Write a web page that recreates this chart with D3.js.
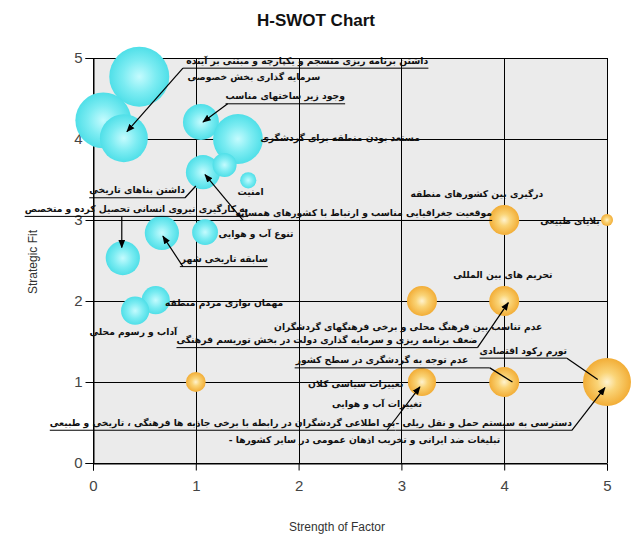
<!DOCTYPE html>
<html>
<head>
<meta charset="utf-8">
<script src="https://cdn.jsdelivr.net/npm/d3@7"></script>
<style>
  html, body { margin: 0; padding: 0; background: #ffffff; }
  svg { display: block; }
</style>
</head>
<body>
<svg id="chart" width="632" height="538"></svg>
<script>
// ---------------- DATA ----------------
const xTicks = [0, 1, 2, 3, 4, 5];
const yTicks = [0, 1, 2, 3, 4, 5];

// internal factors (cyan bubbles)
const internalX    = [0.45, 0.10, 0.30, 1.05, 1.41, 1.07, 1.28, 1.51, 0.67, 1.09, 0.29, 0.61, 0.41];
const internalY    = [4.77, 4.23, 4.01, 4.21, 4.00, 3.59, 3.68, 3.49, 2.84, 2.85, 2.53, 2.01, 1.88];
const internalSize = [10, 9.3, 8, 6, 8.3, 5.7, 4, 2.7, 5.7, 4.3, 5.7, 4.7, 4.7];

// external factors (orange bubbles)
const externalX    = [1.0, 4.0, 5.0, 3.2, 4.0, 3.2, 4.0, 5.0];
const externalY    = [1.0, 3.0, 3.0, 2.0, 2.0, 1.0, 1.0, 1.0];
const externalSize = [3.3, 5, 2, 5, 5, 4.7, 5, 8];

// factor labels (Persian), placed in data units
const labelText = [
  "داشتن برنامه ریزی منسجم و یکپارچه و مبتنی بر آینده",
  "سرمایه گذاری بخش خصوصی",
  "وجود زیر ساختهای مناسب",
  "مستعد بودن منطقه برای گردشگری",
  "امنیت",
  "داشتن بناهای تاریخی",
  "به کارگیری نیروی انسانی تحصیل کرده و متخصص",
  "موقعیت جغرافیایی مناسب و ارتباط با کشورهای همسایه",
  "تنوع آب و هوایی",
  "سابقه تاریخی شهر",
  "مهمان نوازی مردم منطقه",
  "آداب و رسوم محلی",
  "درگیری بین کشورهای منطقه",
  "بلایای طبیعی",
  "تحریم های بین المللی",
  "عدم تناسب بین فرهنگ محلی و برخی فرهنگهای گردشگران",
  "ضعف برنامه ریزی و سرمایه گذاری دولت در بخش توریسم فرهنگی",
  "تورم رکود اقتصادی",
  "عدم توجه به گردشگری در سطح کشور",
  "تغییرات سیاسی کلان",
  "تغییرات آب و هوایی",
  "بی اطلاعی گردشگران در رابطه با برخی جاذبه ها فرهنگی ، تاریخی و طبیعی",
  "- دسترسی به سیستم حمل و نقل ریلی",
  "- تبلیغات ضد ایرانی و تخریب اذهان عمومی در سایر کشورها"
];
// label layout: right end (x), baseline (y), underline, leader start x, leader target, arrow
const labelLayout = [
  {x: 3.26, y: 4.93, u: true,  lx: 0.875, tx: 0.33, ty: 4.09, arrow: true},
  {x: 2.21, y: 4.73},
  {x: 2.45, y: 4.49, u: true,  lx: 1.31, tx: 1.07, ty: 4.21, arrow: true},
  {x: 3.18, y: 3.98},
  {x: 1.66, y: 3.31},
  {x: 0.895, y: 3.33, u: true, lx: 0.895, tx: 1.0, ty: 3.42, arrow: false},
  {x: 1.51, y: 3.10, u: true,  lx: 0.28, tx: 0.28, ty: 2.66, arrow: true},
  {x: 3.88, y: 3.05, u: true,  lx: 1.46, tx: 1.09, ty: 3.56, arrow: true},
  {x: 1.95, y: 2.79},
  {x: 1.70, y: 2.48, u: true,  lx: 0.875, tx: 0.68, ty: 2.80, arrow: true},
  {x: 1.85, y: 1.94},
  {x: 0.82, y: 1.58},
  {x: 4.38, y: 3.28},
  {x: 4.93, y: 2.95},
  {x: 4.47, y: 2.28},
  {x: 4.37, y: 1.64},
  {x: 3.74, y: 1.48, u: true,  lx: 3.74, tx: 4.04, ty: 1.98, arrow: true},
  {x: 4.61, y: 1.35, u: true,  lx: 4.61, tx: 4.91, ty: 1.03, arrow: false},
  {x: 3.65, y: 1.23, u: true,  lx: 3.86, tx: 4.08, ty: 1.00, arrow: false},
  {x: 3.02, y: 0.94},
  {x: 3.20, y: 0.69},
  {x: 2.94, y: 0.46, u: true,  lx: 2.86, tx: 3.18, ty: 0.94, arrow: true},
  {x: 4.66, y: 0.46, u: true,  lx: 4.66, tx: 4.98, ty: 0.93, arrow: true},
  {x: 3.96, y: 0.25}
];

// ---------------- CHART ----------------
const svg = d3.select("#chart");
const plot = {left: 93, right: 607, top: 58, bottom: 463};

const x = d3.scaleLinear().domain([0, 5]).range([plot.left, plot.right]);
const y = d3.scaleLinear().domain([0, 5]).range([plot.bottom, plot.top]);
const r = d3.scaleLinear().domain([0, 10]).range([0, 30]);

const defs = svg.append("defs");
function radial(id, stops) {
  const g = defs.append("radialGradient").attr("id", id)
    .attr("cx", "50%").attr("cy", "50%").attr("r", "50%");
  stops.forEach(s => g.append("stop").attr("offset", s[0]).attr("stop-color", s[1]));
}
radial("gCyan", [["0%", "#c4fbfe"], ["55%", "#7cecf2"], ["100%", "#4fdfe8"]]);
radial("gOrange", [["0%", "#fff3cf"], ["40%", "#fad477"], ["100%", "#f2ad36"]]);

defs.append("marker").attr("id", "arrow")
  .attr("viewBox", "0 0 10 10").attr("refX", 9).attr("refY", 5)
  .attr("markerWidth", 7).attr("markerHeight", 7)
  .attr("orient", "auto-start-reverse")
  .append("path").attr("d", "M0,1 L10,5 L0,9 Z").attr("fill", "#000");

// Title
svg.append("text").attr("x", 316).attr("y", 26)
  .attr("text-anchor", "middle")
  .attr("font-family", "Liberation Sans, Arial, sans-serif")
  .attr("font-weight", "bold").attr("font-size", 17)
  .attr("fill", "#111").text("H-SWOT Chart");

// plot background
svg.append("rect")
  .attr("x", plot.left).attr("y", plot.top)
  .attr("width", plot.right - plot.left).attr("height", plot.bottom - plot.top)
  .attr("fill", "#ebebeb");

// gridlines
const grid = svg.append("g").attr("stroke", "#000").attr("stroke-width", 1);
grid.selectAll("line.v").data(xTicks).enter().append("line")
  .attr("x1", d => Math.round(x(d)) + 0.5).attr("x2", d => Math.round(x(d)) + 0.5)
  .attr("y1", plot.top).attr("y2", plot.bottom);
grid.selectAll("line.h").data(yTicks).enter().append("line")
  .attr("y1", d => Math.round(y(d)) + 0.5).attr("y2", d => Math.round(y(d)) + 0.5)
  .attr("x1", plot.left).attr("x2", plot.right);

// axes
const axisFont = "Liberation Sans, Arial, sans-serif";
const xAxis = svg.append("g").attr("transform", `translate(0,${Math.round(y(0)) + 0.5})`)
  .call(d3.axisBottom(x).tickValues(xTicks).tickSize(7).tickPadding(10).tickFormat(d3.format("d")));
const yAxis = svg.append("g").attr("transform", `translate(${Math.round(x(0)) + 0.5},0)`)
  .call(d3.axisLeft(y).tickValues(yTicks).tickSize(8).tickPadding(3).tickFormat(d3.format("d")));
[xAxis, yAxis].forEach(a => {
  a.select(".domain").attr("stroke", "#000");
  a.selectAll(".tick line").attr("stroke", "#000");
  a.selectAll(".tick text").attr("font-family", axisFont).attr("font-size", 15).attr("fill", "#444");
});

// axis titles
svg.append("text").attr("x", 337).attr("y", 531).attr("text-anchor", "middle")
  .attr("font-family", axisFont).attr("font-size", 12).attr("fill", "#333")
  .text("Strength of Factor");
svg.append("text").attr("transform", "translate(37,262) rotate(-90)")
  .attr("text-anchor", "middle")
  .attr("font-family", axisFont).attr("font-size", 12).attr("fill", "#333")
  .text("Strategic Fit");

// bubbles
const internal = internalX.map((v, i) => ({x: v, y: internalY[i], s: internalSize[i]}));
const external = externalX.map((v, i) => ({x: v, y: externalY[i], s: externalSize[i]}));

svg.append("g").selectAll("circle").data(internal).enter().append("circle")
  .attr("cx", d => x(d.x)).attr("cy", d => y(d.y)).attr("r", d => r(d.s))
  .attr("fill", "url(#gCyan)");
svg.append("g").selectAll("circle").data(external).enter().append("circle")
  .attr("cx", d => x(d.x)).attr("cy", d => y(d.y)).attr("r", d => r(d.s))
  .attr("fill", "url(#gOrange)");

// labels
const lab = svg.append("g");
labelText.forEach((t, i) => {
  const L = labelLayout[i];
  const tx = x(L.x), ty = y(L.y);
  const txt = lab.append("text").attr("x", tx).attr("y", ty)
    .attr("text-anchor", "end")
    .attr("font-family", "DejaVu Sans, sans-serif")
    .attr("font-weight", "bold")
    .attr("font-size", 9.2)
    .attr("fill", "#111")
    .text(t);
  const bb = txt.node().getBBox();
  const uy = ty + 4.5;
  if (L.u) {
    let x1 = bb.x, x2 = bb.x + bb.width;
    if (L.lx !== undefined) { x1 = Math.min(x1, x(L.lx)); x2 = Math.max(x2, x(L.lx)); }
    lab.append("line").attr("x1", x1).attr("x2", x2).attr("y1", uy).attr("y2", uy)
      .attr("stroke", "#000").attr("stroke-width", 1);
  }
  if (L.tx !== undefined) {
    const ln = lab.append("line")
      .attr("x1", x(L.lx)).attr("y1", uy)
      .attr("x2", x(L.tx)).attr("y2", y(L.ty))
      .attr("stroke", "#000").attr("stroke-width", 1.2);
    if (L.arrow) ln.attr("marker-end", "url(#arrow)");
  }
});
</script>
</body>
</html>
